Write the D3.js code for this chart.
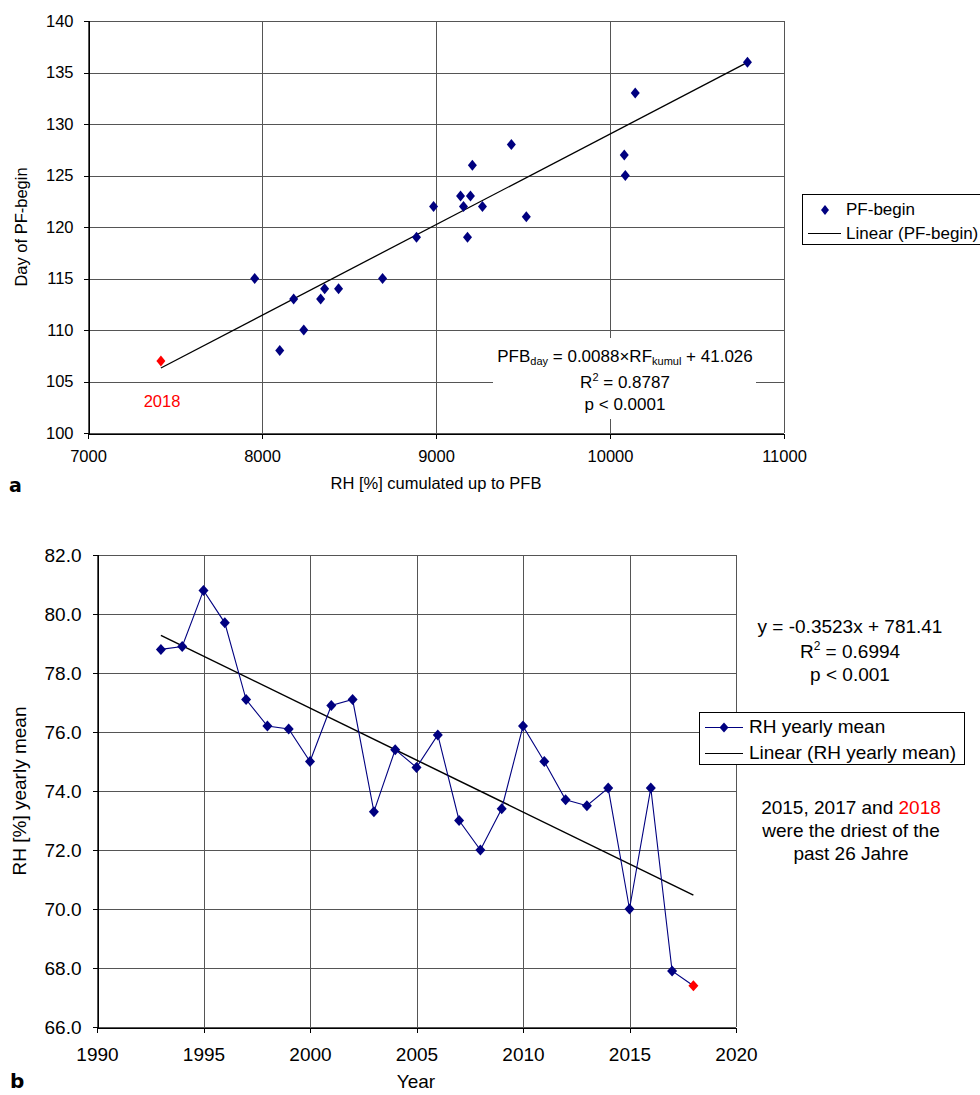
<!DOCTYPE html>
<html>
<head>
<meta charset="utf-8">
<script src="https://cdn.jsdelivr.net/npm/d3@7"></script>
<style>
  body { margin: 0; background: #fff; }
  svg { display: block; font-family: "Liberation Sans", Arial, sans-serif; }
  .grid line { stroke: #555; stroke-width: 1; shape-rendering: crispEdges; }
  .axis path, .axis line { stroke: #000; shape-rendering: crispEdges; }
  .axis text { fill: #000; }
</style>
</head>
<body>
<div id="chart"></div>
<script>
// --- panel a: cumulated RH vs. day of PF-begin
const rhCumul = [10790, 10145, 10082, 10088, 9433, 9209, 9141, 9198, 9158, 9267, 8986,
                 9519, 8888, 9181, 8693, 7958, 8440, 8360, 8182, 8337, 8240, 8102];
const pfbDay  = [136, 133, 127, 125, 128, 126, 123, 123, 122, 122, 122,
                 121, 119, 119, 115, 115, 114, 114, 113, 113, 110, 108];
const rh2018 = 7419, pfb2018 = 107;
const fitA = { slope: 0.0088, intercept: 41.026 };
const xTicksA = [7000, 8000, 9000, 10000, 11000];
const yTicksA = [100, 105, 110, 115, 120, 125, 130, 135, 140];

// --- panel b: yearly mean RH
const years = [1993, 1994, 1995, 1996, 1997, 1998, 1999, 2000, 2001, 2002, 2003, 2004, 2005,
               2006, 2007, 2008, 2009, 2010, 2011, 2012, 2013, 2014, 2015, 2016, 2017, 2018];
const rhMean = [78.8, 78.9, 80.8, 79.7, 77.1, 76.2, 76.1, 75.0, 76.9, 77.1, 73.3, 75.4, 74.8,
                75.9, 73.0, 72.0, 73.4, 76.2, 75.0, 73.7, 73.5, 74.1, 70.0, 74.1, 67.9, 67.4];
const fitB = { slope: -0.3523, intercept: 781.41 };
const xTicksB = [1990, 1995, 2000, 2005, 2010, 2015, 2020];
const yTicksB = [66, 68, 70, 72, 74, 76, 78, 80, 82];

const W = 980, H = 1095;
const navy = "#000080";
const diamond = (w, h) => `M0,${-h}L${w},0L0,${h}L${-w},0Z`;

const svg = d3.select("#chart").append("svg").attr("width", W).attr("height", H);

function grid(g, x, y, xt, yt) {
    const gg = g.append("g").attr("class", "grid");
    gg.selectAll(".gx").data(xt).join("line")
        .attr("x1", d => Math.round(x(d)) + 0.5).attr("x2", d => Math.round(x(d)) + 0.5)
        .attr("y1", y.range()[0]).attr("y2", y.range()[1]);
    gg.selectAll(".gy").data(yt).join("line")
        .attr("y1", d => Math.round(y(d)) + 0.5).attr("y2", d => Math.round(y(d)) + 0.5)
        .attr("x1", x.range()[0]).attr("x2", x.range()[1]);
}

// ================= panel a =================
{
    const fs = 16.5;
    const x = d3.scaleLinear().domain([7000, 11000]).range([88, 784]);
    const y = d3.scaleLinear().domain([100, 140]).range([433, 21]);
    const g = svg.append("g");

    grid(g, x, y, xTicksA, yTicksA);

    // white box behind the equation (hides grid)
    g.append("rect").attr("x", 493).attr("y", 338).attr("width", 263).attr("height", 81).attr("fill", "#fff");

    g.append("g").attr("class", "axis").attr("transform", `translate(${x.range()[0] + 0.5},0)`)
        .call(d3.axisLeft(y).tickValues(yTicksA).tickSize(5).tickPadding(10))
        .call(a => a.selectAll("text").attr("font-size", fs));
    g.append("g").attr("class", "axis").attr("transform", `translate(0,${y.range()[0] + 0.5})`)
        .call(d3.axisBottom(x).tickValues(xTicksA).tickFormat(d3.format("d")).tickSize(5).tickPadding(12))
        .call(a => a.selectAll("text").attr("font-size", fs));

    // trend line
    const x0 = rh2018, x1 = d3.max(rhCumul);
    g.append("line")
        .attr("x1", x(x0)).attr("y1", y(fitA.slope * x0 + fitA.intercept))
        .attr("x2", x(x1)).attr("y2", y(fitA.slope * x1 + fitA.intercept))
        .attr("stroke", "#000").attr("stroke-width", 1.3);

    g.selectAll(".pt").data(rhCumul).join("path")
        .attr("d", diamond(4.5, 5.5))
        .attr("transform", (d, i) => `translate(${x(d)},${y(pfbDay[i])})`)
        .attr("fill", navy);
    g.append("path").attr("d", diamond(4.5, 5.5))
        .attr("transform", `translate(${x(rh2018)},${y(pfb2018)})`).attr("fill", "#ff0000");

    g.append("text").attr("x", 162).attr("y", 407).attr("text-anchor", "middle")
        .attr("font-size", fs).attr("fill", "#ff0000").text("2018");

    const eq = g.append("text").attr("text-anchor", "middle").attr("font-size", 17);
    const l1 = eq.append("tspan").attr("x", 625).attr("y", 362);
    l1.append("tspan").text("PFB");
    l1.append("tspan").attr("font-size", 11).attr("dy", 3).text("day");
    l1.append("tspan").attr("dy", -3).text(" = 0.0088×RF");
    l1.append("tspan").attr("font-size", 11).attr("dy", 3).text("kumul");
    l1.append("tspan").attr("dy", -3).text(" + 41.026");
    const l2 = eq.append("tspan").attr("x", 625).attr("y", 388);
    l2.append("tspan").text("R");
    l2.append("tspan").attr("font-size", 11).attr("dy", -7).text("2");
    l2.append("tspan").attr("dy", 7).text(" = 0.8787");
    eq.append("tspan").attr("x", 625).attr("y", 410).text("p < 0.0001");

    g.append("text").attr("transform", "translate(27,227) rotate(-90)").attr("text-anchor", "middle")
        .attr("font-size", fs).text("Day of PF-begin");
    g.append("text").attr("x", 436).attr("y", 489).attr("text-anchor", "middle")
        .attr("font-size", fs).text("RH [%] cumulated up to PFB");
    g.append("text").attr("x", 9).attr("y", 492).attr("font-family", "DejaVu Sans")
        .attr("font-weight", "bold").attr("font-size", 19).text("a");

    // legend
    const lg = g.append("g").attr("transform", "translate(802,194)");
    lg.append("rect").attr("x", 0.5).attr("y", 0.5).attr("width", 190).attr("height", 50)
        .attr("fill", "#fff").attr("stroke", "#000");
    lg.append("path").attr("d", diamond(4, 5)).attr("transform", "translate(23,16)").attr("fill", navy);
    lg.append("text").attr("x", 44).attr("y", 21).attr("font-size", 17).text("PF-begin");
    lg.append("line").attr("x1", 6).attr("x2", 39).attr("y1", 39.5).attr("y2", 39.5).attr("stroke", "#000");
    lg.append("text").attr("x", 44).attr("y", 45).attr("font-size", 17).text("Linear (PF-begin)");
}

// ================= panel b =================
{
    const fs = 19;
    const x = d3.scaleLinear().domain([1990, 2020]).range([97, 736]);
    const y = d3.scaleLinear().domain([66, 82]).range([1027, 555]);
    const g = svg.append("g");

    grid(g, x, y, xTicksB, yTicksB);

    g.append("g").attr("class", "axis").attr("transform", `translate(${x.range()[0] + 0.5},0)`)
        .call(d3.axisLeft(y).tickValues(yTicksB).tickFormat(d3.format(".1f")).tickSize(5).tickPadding(11))
        .call(a => a.selectAll("text").attr("font-size", fs));
    g.append("g").attr("class", "axis").attr("transform", `translate(0,${y.range()[0] + 0.5})`)
        .call(d3.axisBottom(x).tickValues(xTicksB).tickFormat(d3.format("d")).tickSize(5).tickPadding(15))
        .call(a => a.selectAll("text").attr("font-size", fs));

    const x0 = d3.min(years), x1 = d3.max(years);
    g.append("line")
        .attr("x1", x(x0)).attr("y1", y(fitB.slope * x0 + fitB.intercept))
        .attr("x2", x(x1)).attr("y2", y(fitB.slope * x1 + fitB.intercept))
        .attr("stroke", "#000").attr("stroke-width", 1.5);

    const line = d3.line().x((d, i) => x(years[i])).y(d => y(d));
    g.append("path").datum(rhMean).attr("d", line)
        .attr("fill", "none").attr("stroke", navy).attr("stroke-width", 1.1);

    g.selectAll(".pt").data(rhMean).join("path")
        .attr("d", diamond(5, 5.5))
        .attr("transform", (d, i) => `translate(${x(years[i])},${y(d)})`)
        .attr("fill", (d, i) => years[i] === 2018 ? "#ff0000" : navy);

    const eq = g.append("text").attr("text-anchor", "middle").attr("font-size", fs);
    eq.append("tspan").attr("x", 850).attr("y", 633).text("y = -0.3523x + 781.41");
    const l2 = eq.append("tspan").attr("x", 850).attr("y", 658);
    l2.append("tspan").text("R");
    l2.append("tspan").attr("font-size", 12).attr("dy", -8).text("2");
    l2.append("tspan").attr("dy", 8).text(" = 0.6994");
    eq.append("tspan").attr("x", 850).attr("y", 681).text("p < 0.001");

    const note = g.append("text").attr("text-anchor", "middle").attr("font-size", fs);
    const n1 = note.append("tspan").attr("x", 851).attr("y", 814);
    n1.append("tspan").text("2015, 2017 and ");
    n1.append("tspan").attr("fill", "#ff0000").text("2018");
    note.append("tspan").attr("x", 851).attr("y", 837).text("were the driest of the");
    note.append("tspan").attr("x", 851).attr("y", 860).text("past 26 Jahre");

    // legend
    const lg = g.append("g").attr("transform", "translate(699,712)");
    lg.append("rect").attr("x", 0.5).attr("y", 0.5).attr("width", 265).attr("height", 52)
        .attr("fill", "#fff").attr("stroke", "#000");
    lg.append("line").attr("x1", 6).attr("x2", 44).attr("y1", 15.5).attr("y2", 15.5).attr("stroke", navy);
    lg.append("path").attr("d", diamond(4.5, 5)).attr("transform", "translate(25,15.5)").attr("fill", navy);
    lg.append("text").attr("x", 50).attr("y", 21).attr("font-size", fs).text("RH yearly mean");
    lg.append("line").attr("x1", 6).attr("x2", 44).attr("y1", 41.5).attr("y2", 41.5).attr("stroke", "#000");
    lg.append("text").attr("x", 50).attr("y", 47).attr("font-size", fs).text("Linear (RH yearly mean)");

    g.append("text").attr("transform", "translate(26,791) rotate(-90)").attr("text-anchor", "middle")
        .attr("font-size", fs).text("RH [%] yearly mean");
    g.append("text").attr("x", 416).attr("y", 1088).attr("text-anchor", "middle")
        .attr("font-size", fs).text("Year");
    g.append("text").attr("x", 10).attr("y", 1088).attr("font-family", "DejaVu Sans")
        .attr("font-weight", "bold").attr("font-size", 20).text("b");
}
</script>
</body>
</html>
